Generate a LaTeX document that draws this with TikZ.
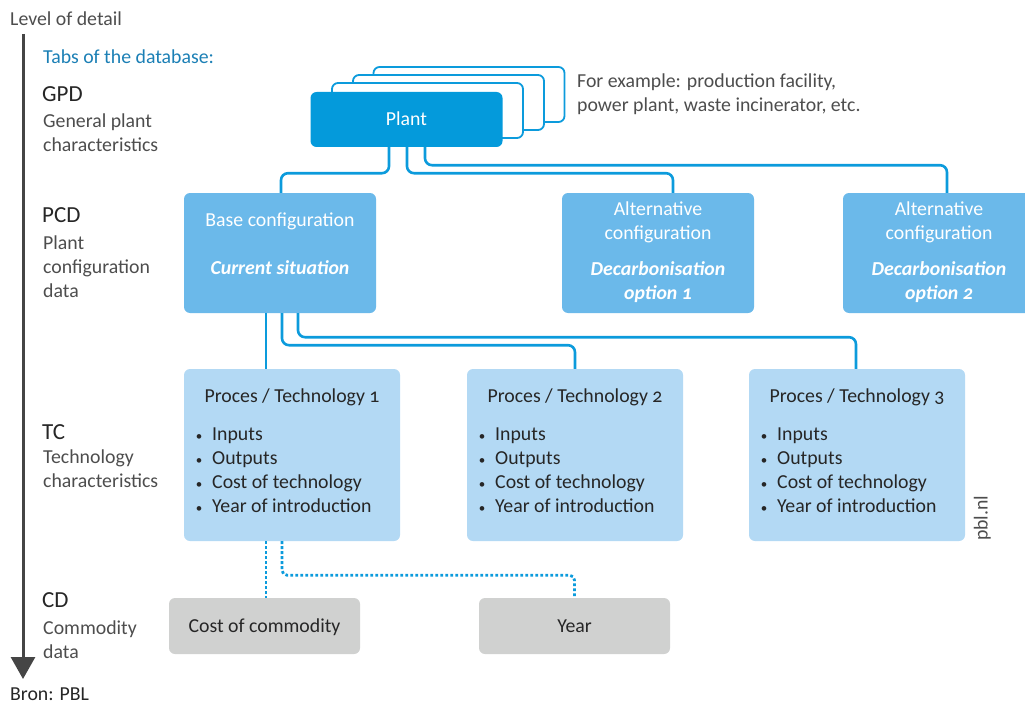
\documentclass[tikz,border=0pt]{standalone}
\usepackage{fontspec}
\setmainfont{Carlito}[Numbers=OldStyle]
\usetikzlibrary{arrows.meta}
\definecolor{plantblue}{HTML}{049ADB}
\definecolor{connblue}{HTML}{0C9BDC}
\definecolor{cfgblue}{HTML}{6BB9EA}
\definecolor{tcblue}{HTML}{B3D9F4}
\definecolor{cdgray}{HTML}{D0D1D0}
\definecolor{tabblue}{HTML}{1B7FB5}
\definecolor{lblgray}{HTML}{4D4D4D}
\definecolor{txtdark}{HTML}{262626}
\tikzset{
  box/.style={rounded corners=6pt, draw=none, inner sep=0pt},
  stackbox/.style={rounded corners=6pt, draw=connblue, line width=1.8pt, fill=white, minimum width=191, minimum height=55, inner sep=0pt},
  conn/.style={draw=connblue, line width=2.6pt, rounded corners=7pt},
  dotconn/.style={draw=connblue, line width=2.8pt, dash pattern=on 2.8pt off 2.2pt, rounded corners=5pt},
  txt/.style={inner sep=0pt, text height=1.45ex, text depth=.35ex, yshift=-4pt, font=\fontsize{19.8}{24}\selectfont},
  lbl/.style={txt, anchor=west, text=lblgray},
  big/.style={inner sep=0pt, text height=1.45ex, text depth=.35ex, yshift=-4pt, anchor=west, text=txtdark, font=\fontsize{23}{24}\selectfont},
  wtxt/.style={txt, text=white},
  wbold/.style={txt, text=white, font=\fontsize{19.8}{24}\selectfont\bfseries\itshape},
  dtxt/.style={txt, text=txtdark},
}
\begin{document}
\begin{tikzpicture}[x=1pt, y=-1pt]
\useasboundingbox (0,0) rectangle (1025,706);

% level of detail axis
\node[lbl, text=lblgray] (lod) at (10,19) {Level of detail};
\coordinate (axtop) at (23,34);
\coordinate (axbot) at (23,679);
\draw[draw=lblgray!90!black, line width=3pt, -{Triangle[width=24pt,length=22pt]}] (axtop) -- (axbot);
\node[lbl, text=txtdark] (bron) at (10,694) {Bron: PBL};

\node[txt, anchor=west, text=tabblue] (tabs) at (43,57) {Tabs of the database:};

\node[big] (gpd) at (42,95) {GPD};
\node[lbl] (gpd1) at (43,121) {General plant};
\node[lbl] (gpd2) at (43,145) {characteristics};

\node[big] (pcd) at (42,216) {PCD};
\node[lbl] (pcd1) at (43,243) {Plant};
\node[lbl] (pcd2) at (43,267) {configuration};
\node[lbl] (pcd3) at (43,291) {data};

\node[big] (tc) at (42,433) {TC};
\node[lbl] (tc1l) at (43,457) {Technology};
\node[lbl] (tc2l) at (43,481) {characteristics};

\node[big] (cd) at (42,601) {CD};
\node[lbl] (cd1l) at (43,628) {Commodity};
\node[lbl] (cd2l) at (43,652) {data};

% stacked plant boxes
\node[stackbox] (s3) at (469,94.5) {};
\node[stackbox] (s2) at (448.5,102.5) {};
\node[stackbox] (s1) at (427.5,110.5) {};
\node[box, fill=plantblue, minimum width=192, minimum height=55] (plant) at (406.5,119.5) {};
\node[wtxt] (plantt) at (406.5,119) {Plant};
\node[lbl] (ex1) at (577,81) {For example: production facility,};
\node[lbl] (ex2) at (577,105) {power plant, waste incinerator, etc.};

% configuration boxes
\node[box, fill=cfgblue, minimum width=192, minimum height=120] (base) at (280,253) {};
\node[wtxt] (baset1) at (280,220) {Base configuration};
\node[wbold] (baset2) at (280,268) {Current situation};

\node[box, fill=cfgblue, minimum width=192, minimum height=120] (alt1) at (658,253) {};
\node[wtxt] (alt1a) at (658,209) {Alternative};
\node[wtxt] (alt1b) at (658,233) {configuration};
\node[wbold] (alt1c) at (658,269) {Decarbonisation};
\node[wbold] (alt1d) at (658,293) {option 1};

\node[box, fill=cfgblue, minimum width=192, minimum height=120] (alt2) at (939,253) {};
\node[wtxt] (alt2a) at (939,209) {Alternative};
\node[wtxt] (alt2b) at (939,233) {configuration};
\node[wbold] (alt2c) at (939,269) {Decarbonisation};
\node[wbold] (alt2d) at (939,293) {option 2};

% technology boxes
\foreach \n/\cx/\k in {tca/292/1, tcb/575/2, tcc/857/3}{
  \node[box, fill=tcblue, minimum width=216, minimum height=172] (\n) at (\cx,455) {};
  \node[dtxt] (\n t) at (\cx,396) {Proces / Technology \k};
  \foreach \y/\s/\m in {434/Inputs/i, 458/Outputs/o, 482/Cost of technology/c, 506/Year of introduction/y}{
    \node[dtxt, anchor=center, font=\fontsize{13}{14}\selectfont] (\n b\m) at (\cx-93,\y) {\textbullet};
    \node[dtxt, anchor=west] (\n x\m) at (\cx-80,\y) {\s};
  }
}
\node[txt, text=lblgray, rotate=90, anchor=west, yshift=0pt, xshift=-4pt] (pbl) at (985,533) {pbl.nl};

% commodity boxes
\node[box, fill=cdgray, minimum width=191, minimum height=56] (cost) at (264.5,626) {};
\node[dtxt] (costt) at (264.5,626) {Cost of commodity};
\node[box, fill=cdgray, minimum width=191, minimum height=56] (year) at (574.5,626) {};
\node[dtxt] (yeart) at (574.5,626) {Year};

% connectors plant -> configurations
\draw[conn] ([xshift=-17.5]plant.south) -- ++(0,26) -| ([xshift=1]base.north);
\draw[conn] ([xshift=0.5]plant.south) -- ++(0,26) -| ([xshift=15]alt1.north);
\draw[conn] ([xshift=18.5]plant.south) -- ++(0,18) -| ([xshift=8]alt2.north);

% connectors base -> technologies
\draw[conn] ([xshift=-14]base.south) -- ([xshift=-26]tca.north);
\draw[conn] ([xshift=2]base.south) -- ++(0,32) -| (tcb.north);
\draw[conn] ([xshift=18]base.south) -- ++(0,24) -| ([xshift=-1]tcc.north);

% dotted connectors tc1 -> commodity
\draw[dotconn] ([xshift=-26]tca.south) -- ([xshift=1.5]cost.north);
\draw[dotconn] ([xshift=-10]tca.south) -- ++(0,34) -| (year.north);
\end{tikzpicture}
\end{document}
